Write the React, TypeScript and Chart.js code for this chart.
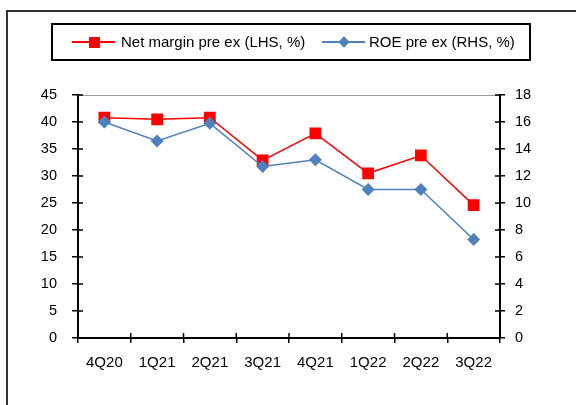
import React, { useEffect, useRef } from "react";
import { Chart, registerables } from "chart.js";

Chart.register(...registerables);

const categories = ["4Q20", "1Q21", "2Q21", "3Q21", "4Q21", "1Q22", "2Q22", "3Q22"];
const netMarginPreEx = [40.8, 40.5, 40.8, 32.9, 37.9, 30.5, 33.8, 24.6];
const roePreEx = [16.0, 14.6, 15.9, 12.7, 13.2, 11.0, 11.0, 7.3];
const leftAxisMax = 45;
const leftAxisStep = 5;
const rightAxisMax = 18;
const rightAxisStep = 2;
const seriesLabels = ["Net margin pre ex (LHS, %)", "ROE pre ex (RHS, %)"];

const RED = "#FF0000";
const BLUE = "#4F81BD";
const FONT = "'Liberation Sans', Arial, sans-serif";

const innerTicks = {
  id: "innerTicks",
  beforeDatasetsDraw(chart: any) {
    const { ctx, chartArea } = chart;
    ctx.save();
    ctx.strokeStyle = "#9a9a9a";
    ctx.lineWidth = 1;
    ctx.beginPath();
    ctx.moveTo(chartArea.left, Math.round(chartArea.top) + 0.5);
    ctx.lineTo(chartArea.right, Math.round(chartArea.top) + 0.5);
    ctx.stroke();
    ctx.restore();
  },
  afterDraw(chart: any) {
    const { ctx, chartArea, scales } = chart;
    ctx.save();
    ctx.strokeStyle = "#000";
    ctx.lineWidth = 1.5;
    const yl = scales.y;
    yl.ticks.forEach((_t: any, i: number) => {
      const p = yl.getPixelForTick(i);
      ctx.beginPath();
      ctx.moveTo(chartArea.left, p);
      ctx.lineTo(chartArea.left + 5, p);
      ctx.stroke();
    });
    const yr = scales.y1;
    yr.ticks.forEach((_t: any, i: number) => {
      const p = yr.getPixelForTick(i);
      ctx.beginPath();
      ctx.moveTo(chartArea.right - 5, p);
      ctx.lineTo(chartArea.right, p);
      ctx.stroke();
    });
    const x = scales.x;
    const n = x.ticks.length;
    for (let i = 0; i <= n; i++) {
      const p = x.getPixelForValue(i - 0.5);
      ctx.beginPath();
      ctx.moveTo(p, chartArea.bottom - 5);
      ctx.lineTo(p, chartArea.bottom);
      ctx.stroke();
    }
    ctx.restore();
  },
};

export default function App() {
  const ref = useRef<HTMLCanvasElement>(null);
  useEffect(() => {
    const chart = new Chart(ref.current!, {
      type: "line",
      data: {
        labels: categories,
        datasets: [
          {
            label: seriesLabels[0],
            data: netMarginPreEx,
            yAxisID: "y",
            borderColor: RED,
            backgroundColor: RED,
            borderWidth: 1.5,
            pointStyle: "rect",
            pointRadius: 8.3,
            pointBorderWidth: 0,
            pointBackgroundColor: RED,
            order: 1,
          },
          {
            label: seriesLabels[1],
            data: roePreEx,
            yAxisID: "y1",
            borderColor: BLUE,
            backgroundColor: BLUE,
            borderWidth: 1.5,
            pointStyle: "rectRot",
            pointRadius: 6.5,
            pointBorderWidth: 0,
            pointBackgroundColor: BLUE,
            order: 0,
          },
        ],
      },
      options: {
        animation: false,
        responsive: false,
        devicePixelRatio: 1,
        layout: { padding: { top: 95, left: 0, right: 0, bottom: 0 } },
        plugins: { legend: { display: false }, tooltip: { enabled: false }, title: { display: false } },
        scales: {
          x: {
            type: "category",
            offset: true,
            grid: { offset: true, drawOnChartArea: false, drawTicks: true, tickLength: 5, color: "#000", lineWidth: 1.5 },
            border: { display: true, color: "#000", width: 2 },
            ticks: { color: "#000", font: { family: FONT, size: 15 }, padding: 11, maxRotation: 0, autoSkip: false },
            afterFit: (s: any) => { s.height = 405 - 338; },
          },
          y: {
            position: "left",
            min: 0,
            max: leftAxisMax,
            grid: { drawOnChartArea: false, drawTicks: true, tickLength: 6, color: "#000", lineWidth: 1.5 },
            border: { display: true, color: "#000", width: 2 },
            ticks: { stepSize: leftAxisStep, color: "#000", font: { family: FONT, size: 14.5 }, padding: 15 },
            afterFit: (s: any) => { s.width = 78; },
          },
          y1: {
            position: "right",
            min: 0,
            max: rightAxisMax,
            grid: { drawOnChartArea: false, drawTicks: true, tickLength: 5, color: "#000", lineWidth: 1.5 },
            border: { display: true, color: "#000", width: 2 },
            ticks: { stepSize: rightAxisStep, color: "#000", font: { family: FONT, size: 14.5 }, padding: 10 },
            afterFit: (s: any) => { s.width = 576 - 500; },
          },
        },
      },
      plugins: [innerTicks],
    });
    return () => chart.destroy();
  }, []);

  const textStyle: React.CSSProperties = {
    position: "absolute",
    top: 33,
    fontFamily: FONT,
    fontSize: 15,
    lineHeight: "18px",
    color: "#000",
    whiteSpace: "nowrap",
  };

  return (
    <div style={{ position: "fixed", left: 0, top: 0, width: 576, height: 405, background: "#fff", overflow: "hidden" }}>
      <div style={{ position: "absolute", left: 6, top: 10, width: 640, height: 440, borderLeft: "2px solid #333", borderTop: "2px solid #333" }} />
      <canvas ref={ref} width={576} height={405} style={{ position: "absolute", left: 0, top: 0, width: 576, height: 405 }} />
      <div style={{ position: "absolute", left: 51, top: 23, width: 480, height: 38, boxSizing: "border-box", border: "2px solid #000" }} />
      <div style={{ position: "absolute", left: 72, top: 41, width: 43, height: 2, background: RED }} />
      <div style={{ position: "absolute", left: 89, top: 37, width: 11, height: 11, background: RED }} />
      <span style={{ ...textStyle, left: 121 }}>{seriesLabels[0]}</span>
      <div style={{ position: "absolute", left: 322, top: 41, width: 43, height: 2, background: BLUE }} />
      <div style={{ position: "absolute", left: 340, top: 38, width: 8, height: 8, background: BLUE, transform: "rotate(45deg)" }} />
      <span style={{ ...textStyle, left: 369 }}>{seriesLabels[1]}</span>
    </div>
  );
}
